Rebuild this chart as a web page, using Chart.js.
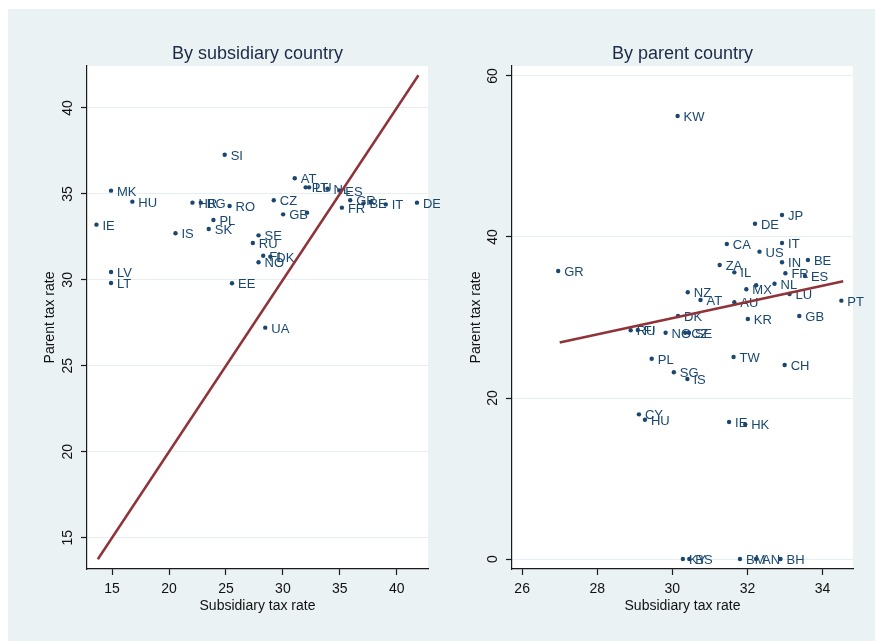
<!DOCTYPE html>
<html>
<head>
<meta charset="utf-8">
<script src="https://cdn.jsdelivr.net/npm/chart.js@4/dist/chart.umd.min.js"></script>
<style>
  html, body { margin: 0; padding: 0; background: #fff; }
  #frame { position: absolute; left: 8px; top: 9px; width: 867px; height: 632px; background: #eaf2f3; }
  .panel { position: absolute; top: 0; height: 632px; }
  #left { left: 0; width: 432px; }
  #right { left: 432px; width: 435px; }
</style>
</head>
<body>
<div id="frame">
  <div class="panel" id="left"><canvas id="subChart" width="432" height="632"></canvas></div>
  <div class="panel" id="right"><canvas id="parChart" width="435" height="632"></canvas></div>
</div>
<script>
// Left panel: by subsidiary country
const subCountries = ['SI', 'MK', 'HU', 'IE', 'HR', 'BG', 'RO', 'PL', 'SK', 'IS', 'SE', 'RU', 'FI', 'DK', 'NO',
  'LV', 'LT', 'EE', 'UA', 'CZ', 'AT', 'GB', '', 'PT', 'LU', 'NL', 'ES', 'GR', 'FR', 'BE', '', 'IT', 'DE'];
const subSubsidiaryRate = [24.89, 14.91, 16.78, 13.63, 22.06, 22.79, 25.32, 23.90, 23.49, 20.57, 27.86, 27.36, 28.27, 28.90, 27.86,
  14.91, 14.91, 25.53, 28.45, 29.20, 31.04, 30.02, 32.12, 32.00, 32.30, 33.92, 34.95, 35.91, 35.18, 37.07, 37.70, 39.03, 41.77];
const subParentRate = [37.28, 35.19, 34.55, 33.21, 34.49, 34.49, 34.30, 33.48, 32.96, 32.71, 32.59, 32.14, 31.40, 31.35, 31.02,
  30.46, 29.82, 29.80, 27.22, 34.63, 35.91, 33.81, 33.91, 35.38, 35.38, 35.30, 35.20, 34.63, 34.20, 34.45, 34.50, 34.39, 34.49];
const diagX = [13.75, 41.9];
const diagY = [13.75, 41.9];
const subXTicks = [15, 20, 25, 30, 35, 40];
const subYTicks = [15, 20, 25, 30, 35, 40];

// Right panel: by parent country
const parCountries = ['KW', 'JP', 'DE', 'IT', 'CA', 'US', 'IN', 'BE', 'ZA', 'IL', 'FR', 'ES', 'NL', 'MX', '', 'LU',
  'NZ', 'AT', 'AU', 'PT', 'GR', 'DK', 'KR', 'GB', 'RU', 'FI', 'NO', 'CZ', 'SE', 'PL', 'TW', 'CH', 'SG', 'IS',
  'CY', 'HU', 'IE', 'HK', 'KY', 'BS', 'BM', 'AN', 'BH'];
const parSubsidiaryRate = [30.14, 32.92, 32.20, 32.92, 31.45, 32.32, 32.92, 33.61, 31.26, 31.65, 33.01, 33.53, 32.72, 31.97, 32.23, 33.12,
  30.41, 30.75, 31.65, 34.50, 26.96, 30.15, 32.01, 33.38, 28.89, 29.08, 29.82, 30.34, 30.44, 29.45, 31.63, 32.99, 30.04, 30.40,
  29.11, 29.27, 31.51, 31.94, 30.28, 30.45, 31.80, 32.23, 32.88];
const parParentRate = [55.03, 42.73, 41.65, 39.25, 39.13, 38.18, 36.86, 37.14, 36.52, 35.61, 35.49, 35.16, 34.20, 33.50, 34.00, 32.92,
  33.13, 32.17, 31.89, 32.09, 35.78, 30.19, 29.81, 30.19, 28.41, 28.45, 28.11, 28.11, 28.11, 24.88, 25.09, 24.10, 23.19, 22.36,
  17.97, 17.30, 17.02, 16.73, 0, 0, 0, 0, 0];
const fitX = [27.0, 34.55];
const fitY = [26.9, 34.5];
const parXTicks = [26, 28, 30, 32, 34];
const parYTicks = [0, 20, 40, 60];

const FONT = '"Liberation Sans", Arial, sans-serif';
const markColor = '#1a476f';
const lineColor = '#8f3339';

const toPoints = (xs, ys) => xs.map((x, i) => ({ x: x, y: ys[i] }));

// white plot region
const plotBg = {
  id: 'plotBg',
  beforeDraw(chart) {
    const { ctx, chartArea: a } = chart;
    ctx.save();
    ctx.fillStyle = '#ffffff';
    ctx.fillRect(a.left, a.top, a.right - a.left, a.bottom - a.top);
    ctx.restore();
  },
};

// country codes to the right of each marker
const countryLabels = {
  id: 'countryLabels',
  afterDatasetDraw(chart, args) {
    const ds = chart.data.datasets[args.index];
    if (!ds.codes) return;
    const ctx = chart.ctx;
    ctx.save();
    ctx.font = '13px ' + FONT;
    ctx.fillStyle = markColor;
    ctx.textAlign = 'left';
    ctx.textBaseline = 'middle';
    args.meta.data.forEach((pt, i) => {
      ctx.fillText(ds.codes[i], pt.x + 6, pt.y + 1.5);
    });
    ctx.restore();
  },
};

const panelTitle = {
  id: 'panelTitle',
  afterDraw(chart, args, opts) {
    const { ctx, chartArea: a } = chart;
    ctx.save();
    ctx.font = '18px ' + FONT;
    ctx.fillStyle = '#1c2a48';
    ctx.textAlign = 'center';
    ctx.textBaseline = 'middle';
    ctx.fillText(opts.text, (a.left + a.right) / 2, 45);
    ctx.restore();
  },
};

const makePanel = (id, cfg) => {
  const ctx = document.getElementById(id).getContext('2d');
  return new Chart(ctx, {
    type: 'scatter',
    data: {
      datasets: [
        {
          data: toPoints(cfg.lineX, cfg.lineY),
          showLine: true,
          borderColor: lineColor,
          borderWidth: 2.5,
          pointRadius: 0,
          fill: false,
        },
        {
          data: toPoints(cfg.xs, cfg.ys),
          codes: cfg.codes,
          backgroundColor: markColor,
          borderColor: markColor,
          borderWidth: 0,
          pointRadius: 2.2,
        },
      ],
    },
    options: {
      responsive: false,
      animation: false,
      layout: { padding: { left: 0, top: 57, right: cfg.padRight, bottom: 0 } },
      plugins: {
        legend: { display: false },
        tooltip: { enabled: false },
        panelTitle: { text: cfg.title },
      },
      scales: {
        x: {
          type: 'linear',
          min: cfg.xMin,
          max: cfg.xMax,
          afterBuildTicks: (s) => { s.ticks = cfg.xTicks.map((v) => ({ value: v })); },
          afterFit: (s) => { s.height = 72; },
          grid: { drawOnChartArea: false, tickLength: 6, tickColor: '#1a1a1a', tickWidth: 1.2 },
          border: { color: '#1a1a1a', width: 1.2 },
          ticks: { font: { size: 14, family: FONT }, color: '#111', padding: 6, maxRotation: 0, autoSkip: false },
          title: {
            display: true,
            text: 'Subsidiary tax rate',
            font: { size: 14, family: FONT },
            color: '#111',
            padding: { top: 0, bottom: 26 },
          },
        },
        y: {
          type: 'linear',
          min: cfg.yMin,
          max: cfg.yMax,
          afterBuildTicks: (s) => { s.ticks = cfg.yTicks.map((v) => ({ value: v })); },
          afterFit: (s) => { s.width = cfg.yWidth; },
          grid: { color: '#e6eef1', lineWidth: 1, tickLength: 6, tickColor: '#1a1a1a', tickWidth: 1.2 },
          border: { color: '#1a1a1a', width: 1.2 },
          ticks: {
            font: { size: 14, family: FONT },
            color: '#111',
            padding: 5,
            minRotation: 90,
            maxRotation: 90,
            crossAlign: 'center',
            autoSkip: false,
          },
          title: {
            display: true,
            text: 'Parent tax rate',
            font: { size: 14, family: FONT },
            color: '#111',
            padding: { top: cfg.yTitlePad, bottom: 0 },
          },
        },
      },
    },
    plugins: [plotBg, countryLabels, panelTitle],
  });
};

makePanel('subChart', {
  title: 'By subsidiary country',
  codes: subCountries,
  xs: subSubsidiaryRate,
  ys: subParentRate,
  lineX: diagX,
  lineY: diagY,
  xMin: 12.8, xMax: 42.74, xTicks: subXTicks,
  yMin: 13.18, yMax: 42.44, yTicks: subYTicks,
  yWidth: 79, padRight: 12, yTitlePad: 34,
});

makePanel('parChart', {
  title: 'By parent country',
  codes: parCountries,
  xs: parSubsidiaryRate,
  ys: parParentRate,
  lineX: fitX,
  lineY: fitY,
  xMin: 25.73, xMax: 34.81, xTicks: parXTicks,
  yMin: -1.24, yMax: 61.24, yTicks: parYTicks,
  yWidth: 72, padRight: 22, yTitlePad: 28,
});
</script>
</body>
</html>
